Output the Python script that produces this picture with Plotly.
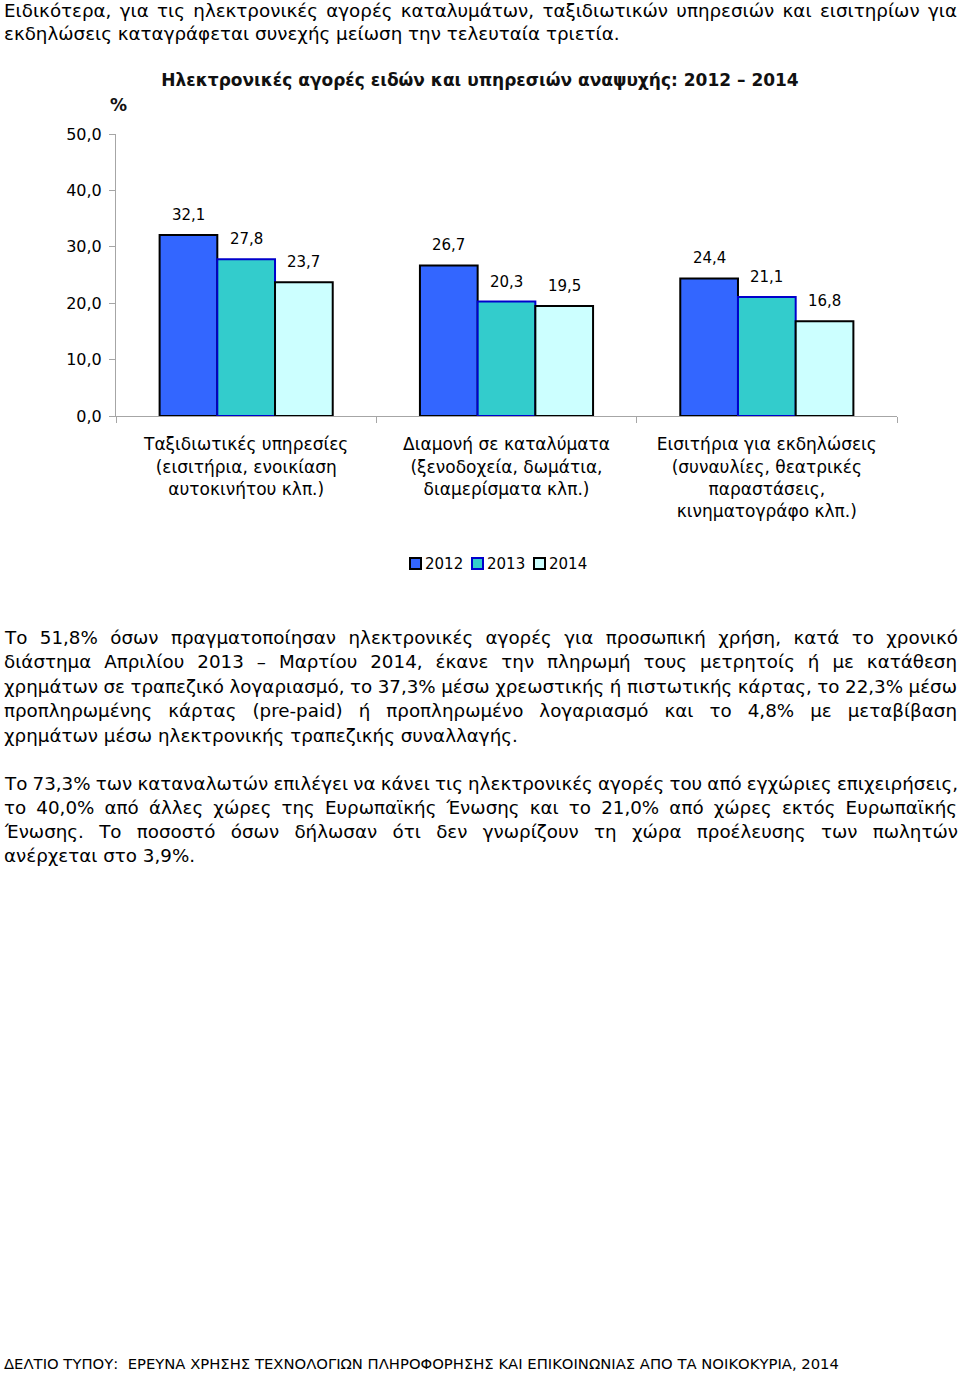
import json
import plotly.graph_objects as go

# chart data
categories = [
    "Ταξιδιωτικές υπηρεσίες<br>(εισιτήρια, ενοικίαση<br>αυτοκινήτου κλπ.)",
    "Διαμονή σε καταλύματα<br>(ξενοδοχεία, δωμάτια,<br>διαμερίσματα κλπ.)",
    "Εισιτήρια για εκδηλώσεις<br>(συναυλίες, θεατρικές<br>παραστάσεις,<br>κινηματογράφο κλπ.)",
]
years = ["2012", "2013", "2014"]
values_2012 = [32.1, 26.7, 24.4]
values_2013 = [27.8, 20.3, 21.1]
values_2014 = [23.7, 19.5, 16.8]
y_ticks = [0, 10, 20, 30, 40, 50]

chart_title = "Ηλεκτρονικές αγορές ειδών και υπηρεσιών αναψυχής: 2012 – 2014"

# (text, justified?)
intro_lines = [
    ("Ειδικότερα, για τις ηλεκτρονικές αγορές καταλυμάτων, ταξιδιωτικών υπηρεσιών και εισιτηρίων για", True),
    ("εκδηλώσεις καταγράφεται συνεχής μείωση την τελευταία τριετία.", False),
]
para1_lines = [
    ("Το 51,8% όσων πραγματοποίησαν ηλεκτρονικές αγορές για προσωπική χρήση, κατά το χρονικό", True),
    ("διάστημα Απριλίου 2013 – Μαρτίου 2014, έκανε την πληρωμή τους μετρητοίς ή με κατάθεση", True),
    ("χρημάτων σε τραπεζικό λογαριασμό, το 37,3% μέσω χρεωστικής ή πιστωτικής κάρτας, το 22,3% μέσω", True),
    ("προπληρωμένης κάρτας (pre-paid) ή προπληρωμένο λογαριασμό και το 4,8% με μεταβίβαση", True),
    ("χρημάτων μέσω ηλεκτρονικής τραπεζικής συναλλαγής.", False),
]
para2_lines = [
    ("Το 73,3% των καταναλωτών επιλέγει να κάνει τις ηλεκτρονικές αγορές του από εγχώριες επιχειρήσεις,", True),
    ("το 40,0% από άλλες χώρες της Ευρωπαϊκής Ένωσης και το 21,0% από χώρες εκτός Ευρωπαϊκής", True),
    ("Ένωσης. Το ποσοστό όσων δήλωσαν ότι δεν γνωρίζουν τη χώρα προέλευσης των πωλητών", True),
    ("ανέρχεται στο 3,9%.", False),
]
footer = "ΔΕΛΤΙΟ ΤΥΠΟΥ:  ΕΡΕΥΝΑ ΧΡΗΣΗΣ ΤΕΧΝΟΛΟΓΙΩΝ ΠΛΗΡΟΦΟΡΗΣΗΣ ΚΑΙ ΕΠΙΚΟΙΝΩΝΙΑΣ ΑΠΟ ΤΑ ΝΟΙΚΟΚΥΡΙΑ, 2014"

FONT = "DejaVu Sans"
W, H = 960, 1374
L, R, T, B = 116, 897, 134, 416   # plot area in pixels
TEXT_RIGHT = 957


def px(x):
    return (x - L) / (R - L)


def py(y):
    return (B - y) / (B - T)


def text_line(fig, text, y, size=18.3, left=2):
    fig.add_annotation(x=px(left), y=py(y), text=text, showarrow=False,
                       xref="paper", yref="paper", xanchor="left", yanchor="middle",
                       align="left", font=dict(family=FONT, size=size, color="black"))


fig = go.Figure()

series = [
    ("2012", values_2012, "#3366FF", "#000000"),
    ("2013", values_2013, "#33CCCC", "#0000CC"),
    ("2014", values_2014, "#CCFFFF", "#000000"),
]
for name, vals, color, edge in series:
    fig.add_trace(go.Bar(
        x=categories, y=vals, name=name,
        marker=dict(color=color, line=dict(color=edge, width=2)),
    ))

# value labels above the bars
bar_w = (R - L) / 3 * (1 - 0.335) / 3
for k, (name, vals, color, edge) in enumerate(series):
    for cat, v in zip(categories, vals):
        fig.add_annotation(x=cat, y=v, text=f"{v:.1f}".replace(".", ","), showarrow=False,
                           xshift=(k - 1) * bar_w, yshift=20, yanchor="middle",
                           font=dict(family=FONT, size=15, color="black"))

# legend drawn compactly under the chart, like the original
leg_x0, leg_y = 410, 564
for k, (name, vals, color, edge) in enumerate(series):
    x0 = leg_x0 + k * 62
    fig.add_shape(type="rect", xref="paper", yref="paper",
                  x0=px(x0), x1=px(x0 + 11), y0=py(leg_y - 6), y1=py(leg_y + 5),
                  fillcolor=color, line=dict(color=edge, width=2))
    fig.add_annotation(x=px(x0 + 13), y=py(leg_y), text=name, showarrow=False,
                       xref="paper", yref="paper", xanchor="left", yanchor="middle",
                       font=dict(family=FONT, size=15, color="black"))

fig.update_layout(
    width=W, height=H,
    margin=dict(l=L, r=W - R, t=T, b=H - B, pad=0),
    paper_bgcolor="white", plot_bgcolor="white",
    separators=",.",
    barmode="group", bargap=0.335, bargroupgap=0,
    font=dict(family=FONT, size=16, color="black"),
    title=dict(text="<b>" + chart_title + "</b>", x=0.5, xanchor="center",
               y=1 - 80 / H, yanchor="middle", font=dict(family=FONT, size=17, color="#111")),
    showlegend=False,
    xaxis=dict(showline=True, linecolor="#A6A6A6", linewidth=1, ticks="outside",
               tickson="boundaries", ticklen=6, tickcolor="#A6A6A6", ticklabelstandoff=13,
               tickfont=dict(family=FONT, size=17, color="black"), showgrid=False),
    yaxis=dict(range=[0, 50], tickvals=y_ticks, tickformat=".1f", showline=True,
               linecolor="#A6A6A6", linewidth=1, ticks="outside", ticklen=6,
               tickcolor="#A6A6A6", showgrid=False, zeroline=False, ticklabelstandoff=4,
               tickfont=dict(family=FONT, size=16, color="black")),
)

fig.add_annotation(x=px(118), y=py(105), text="<b>%</b>", showarrow=False,
                   xref="paper", yref="paper", xanchor="center", yanchor="middle",
                   font=dict(family=FONT, size=17, color="#111"))

justified = []
for lines, ys in [(intro_lines, [10, 33]),
                  (para1_lines, [637, 661, 686, 710, 735]),
                  (para2_lines, [783, 807, 831, 855])]:
    for (t, j), y in zip(lines, ys):
        text_line(fig, t, y)
        if j:
            justified.append(t)

fig.add_annotation(x=px(2), y=py(1363), text=footer, showarrow=False,
                   xref="paper", yref="paper", xanchor="left", yanchor="middle",
                   font=dict(family=FONT, size=14.8, color="black"))

# remove the page margin and stretch word spacing on the justified lines
post = """
document.body.style.margin = '0';
(function () {
  var J = __LINES__;
  function fix() {
    var gd = document.getElementById('{plot_id}');
    gd.querySelectorAll('text.annotation-text').forEach(function (el) {
      if (J.indexOf(el.textContent) < 0) return;
      el.style.wordSpacing = '0px';
      var n = (el.textContent.match(/ /g) || []).length;
      var left = el.getBoundingClientRect().left;
      var len = el.getComputedTextLength();
      el.style.wordSpacing = ((__RIGHT__ - left - len) / n) + 'px';
    });
  }
  fix();
  setTimeout(fix, 100);
})();
""".replace("__LINES__", json.dumps(justified, ensure_ascii=False)).replace("__RIGHT__", str(TEXT_RIGHT))

fig.write_html("out.html", post_script=post, config={"displayModeBar": False})
